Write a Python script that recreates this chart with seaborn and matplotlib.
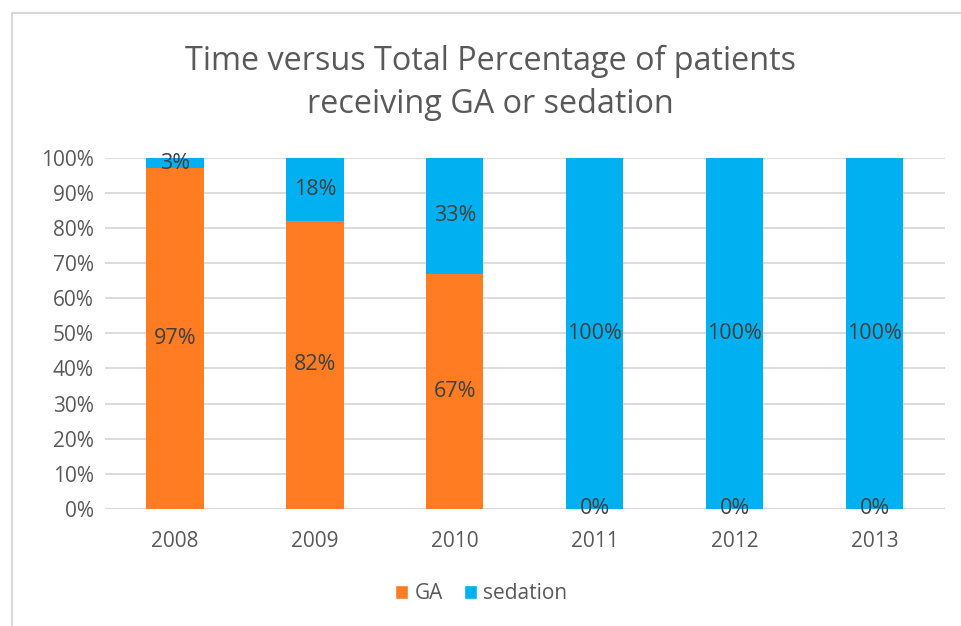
import pandas as pd
import matplotlib.pyplot as plt
import seaborn as sns
from matplotlib.patches import Patch
from matplotlib.lines import Line2D

# Values (percent of patients)
years = ['2008', '2009', '2010', '2011', '2012', '2013']
ga = [97, 82, 67, 0, 0, 0]
sedation = [3, 18, 33, 100, 100, 100]
ga_labels = ['97%', '82%', '67%', '0%', '0%', '0%']
sed_labels = ['3%', '18%', '33%', '100%', '100%', '100%']

ga_color = '#FF7C22'
sed_color = '#00B0F0'
text_color = '#595959'

df = pd.DataFrame({'Year': years, 'GA': ga, 'sedation': sedation})
df['Total'] = df['GA'] + df['sedation']

sns.set_style('white')
plt.rcParams['font.family'] = ['Open Sans', 'DejaVu Sans']

fig = plt.figure(figsize=(9.62, 6.26), dpi=100)
ax = fig.add_axes([0.109, 0.187, 0.873, 0.561])

# stacked bars: total (sedation colour) underneath, GA on top
sns.barplot(data=df, x='Year', y='Total', color=sed_color, width=0.41,
            saturation=1, ax=ax, zorder=2, linewidth=0, edgecolor='none')
sns.barplot(data=df, x='Year', y='GA', color=ga_color, width=0.41,
            saturation=1, ax=ax, zorder=3, linewidth=0, edgecolor='none')

ax.set_ylim(0, 100)
ax.set_xlim(-0.5, len(years) - 0.5)
ax.set_yticks(range(0, 101, 10))
ax.set_yticklabels([f'{v}%' for v in range(0, 101, 10)])
ax.yaxis.grid(True, color='#D9D9D9', linewidth=1.3, zorder=0)
ax.set_axisbelow(True)
for s in ax.spines.values():
    s.set_visible(False)
ax.axhline(0, color='#D9D9D9', linewidth=1.5, zorder=1)
ax.tick_params(axis='both', length=0, labelsize=15, labelcolor=text_color)
ax.tick_params(axis='x', pad=16)
ax.tick_params(axis='y', pad=8)
ax.set_xlabel('')
ax.set_ylabel('')

# data labels
for i in range(len(years)):
    ax.text(i, ga[i] / 2, ga_labels[i], ha='center', va='center',
            fontsize=15.5, color='#404040', zorder=5)
    ax.text(i, ga[i] + sedation[i] / 2, sed_labels[i], ha='center', va='center',
            fontsize=15.5, color='#404040', zorder=5)

fig.text(0.51, 0.868, 'Time versus Total Percentage of patients\nreceiving GA or sedation',
         ha='center', va='center', fontsize=23.3, color=text_color, linespacing=1.4)

handles = [Patch(facecolor=ga_color, label='GA'),
           Patch(facecolor=sed_color, label='sedation')]
leg = fig.legend(handles=handles, loc='center', bbox_to_anchor=(0.5, 0.052), ncol=2,
                 frameon=False, fontsize=15, handlelength=0.65, handleheight=0.65,
                 handletextpad=0.3, columnspacing=1.0)
for t in leg.get_texts():
    t.set_color(text_color)

# light border around the chart area
fig.add_artist(Line2D([12 / 962, 12 / 962], [0, 1 - 13 / 626], transform=fig.transFigure,
                      color='#D9D9D9', linewidth=1.5))
fig.add_artist(Line2D([12 / 962, 1], [1 - 13 / 626, 1 - 13 / 626], transform=fig.transFigure,
                      color='#D9D9D9', linewidth=1.5))

fig.savefig('out.png', dpi=100)
